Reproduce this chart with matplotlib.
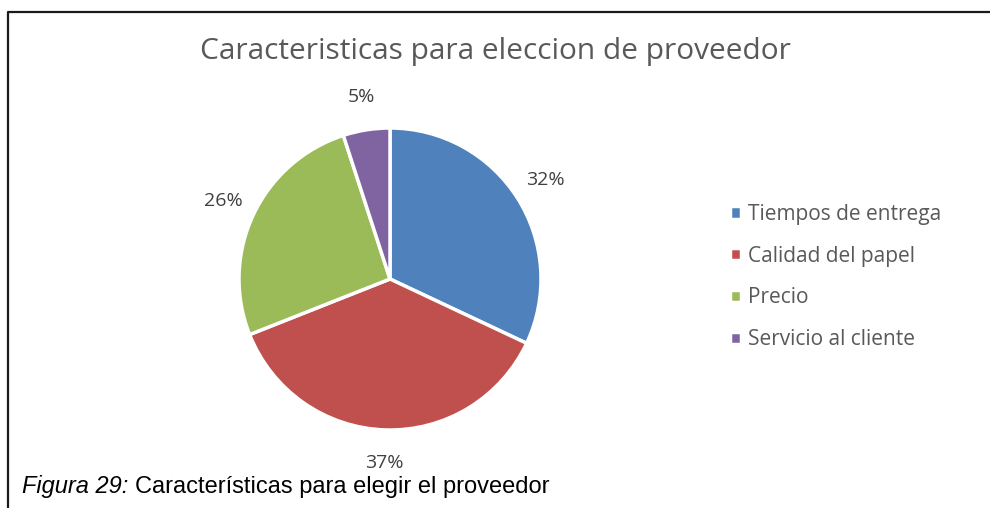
import matplotlib.pyplot as plt
from matplotlib.lines import Line2D

categorias = ['Tiempos de entrega', 'Calidad del papel', 'Precio', 'Servicio al cliente']
valores = [32, 37, 26, 5]
colores = ['#4F81BD', '#C0504D', '#9BBB59', '#8064A2']
titulo = 'Caracteristicas para eleccion de proveedor'

fig = plt.figure(figsize=(9.9, 5.08), dpi=100)

# pie axes: center ~ (390, 279) px, radius ~151 px
ax = fig.add_axes([239 / 990, 78 / 508, 302 / 990, 302 / 508])
wedges, texts, autotexts = ax.pie(valores, colors=colores, startangle=90, counterclock=False,
                                  autopct='%1.0f%%', pctdistance=1.22,
                                  wedgeprops=dict(edgecolor='white', linewidth=2.5),
                                  textprops=dict(fontsize=14, color='#404040', family='Open Sans'))
ax.set_xlim(-1, 1)
ax.set_ylim(-1, 1)
ax.set_aspect('equal')

fig.text(0.5, 1 - 52 / 508, titulo, ha='center', va='center', fontsize=21.5,
         color='#595959', family='Open Sans')

# leyenda
fig.legend(wedges, categorias, loc='center left', bbox_to_anchor=(711 / 990, 1 - 277 / 508),
           frameon=False, handlelength=0.55, handleheight=0.55, handletextpad=0.35,
           labelspacing=1.0, prop=dict(family='Open Sans', size=15), labelcolor='#595959')

# caption
fig.text(22 / 990, 1 - 487 / 508, 'Figura 29:', fontsize=17, style='italic',
         family='Liberation Sans', va='center', ha='left')
fig.text(135 / 990, 1 - 487 / 508, 'Características para elegir el proveedor', fontsize=17,
         family='Liberation Sans', va='center', ha='left')

# marco
fig.add_artist(Line2D([8 / 990, 8 / 990, 1], [0, 1 - 12 / 508, 1 - 12 / 508],
                      transform=fig.transFigure, color='#1a1a1a', linewidth=1.6))

fig.savefig('out.png', dpi=100)
